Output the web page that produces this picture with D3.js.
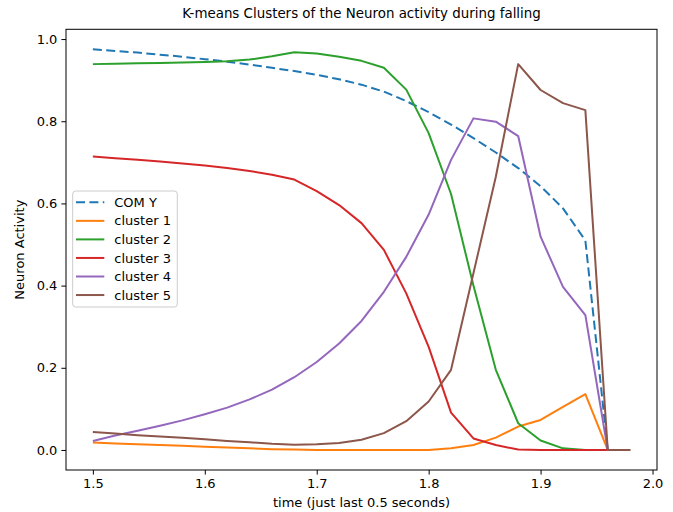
<!DOCTYPE html>
<html>
<head>
<meta charset="utf-8">
<script src="https://cdn.jsdelivr.net/npm/d3@7"></script>
<style>
  body { margin: 0; background: #fff; }
  svg { display: block; font-family: "DejaVu Sans", sans-serif; }
</style>
</head>
<body>
<svg id="chart" width="673" height="512"></svg>
<script>
// time axis (last 0.5 s)
var times = [1.50, 1.52, 1.54, 1.56, 1.58, 1.60, 1.62, 1.64, 1.66, 1.68, 1.70, 1.72, 1.74,
             1.76, 1.78, 1.80, 1.82, 1.84, 1.86, 1.88, 1.90, 1.92, 1.94, 1.96, 1.98];

var comY = [0.975, 0.971, 0.967, 0.962, 0.957, 0.951, 0.945, 0.938, 0.930, 0.922, 0.913, 0.902, 0.889,
            0.872, 0.849, 0.822, 0.792, 0.759, 0.724, 0.686, 0.642, 0.588, 0.510, 0.0, 0.0];
var cluster1 = [0.018, 0.016, 0.014, 0.012, 0.010, 0.008, 0.006, 0.004, 0.002, 0.001, 0.0, 0.0, 0.0,
                0.0, 0.0, 0.0, 0.004, 0.012, 0.030, 0.057, 0.073, 0.105, 0.136, 0.0, 0.0];
var cluster2 = [0.939, 0.940, 0.941, 0.942, 0.943, 0.944, 0.946, 0.950, 0.958, 0.968, 0.965, 0.957, 0.947,
                0.930, 0.877, 0.771, 0.623, 0.400, 0.195, 0.065, 0.023, 0.004, 0.0, 0.0, 0.0];
var cluster3 = [0.714, 0.710, 0.706, 0.702, 0.697, 0.692, 0.686, 0.679, 0.670, 0.658, 0.630, 0.596, 0.552,
                0.487, 0.381, 0.251, 0.091, 0.028, 0.012, 0.001, 0.0, 0.0, 0.0, 0.0, 0.0];
var cluster4 = [0.022, 0.035, 0.047, 0.059, 0.072, 0.087, 0.103, 0.123, 0.147, 0.177, 0.214, 0.259, 0.314,
                0.385, 0.470, 0.573, 0.706, 0.807, 0.799, 0.764, 0.519, 0.397, 0.328, 0.0, 0.0];
var cluster5 = [0.044, 0.040, 0.036, 0.033, 0.030, 0.026, 0.022, 0.019, 0.015, 0.013, 0.014, 0.017, 0.025,
                0.041, 0.070, 0.118, 0.195, 0.430, 0.665, 0.939, 0.876, 0.844, 0.827, 0.0, 0.0];

var seriesNames = ["COM Y", "cluster 1", "cluster 2", "cluster 3", "cluster 4", "cluster 5"];
var xTicks = [1.5, 1.6, 1.7, 1.8, 1.9, 2.0];
var yTicks = [0.0, 0.2, 0.4, 0.6, 0.8, 1.0];

var colors = ["#1f77b4", "#ff7f0e", "#2ca02c", "#d62728", "#9467bd", "#8c564b"];
var allSeries = [comY, cluster1, cluster2, cluster3, cluster4, cluster5];

var svg = d3.select("#chart");
var plotL = 66, plotR = 657, plotT = 29.3, plotB = 470;

// matplotlib style 5% margins
var xExt = d3.extent(times), xPad = (xExt[1] - xExt[0]) * 0.05;
var yExt = d3.extent(d3.merge(allSeries)), yPad = (yExt[1] - yExt[0]) * 0.05;

var x = d3.scaleLinear().domain([xExt[0] - xPad, xExt[1] + xPad]).range([plotL, plotR]);
var y = d3.scaleLinear().domain([yExt[0] - yPad, yExt[1] + yPad]).range([plotB, plotT]);

var line = d3.line()
  .x(function(d, i) { return x(times[i]); })
  .y(function(d) { return y(d); });

var g = svg.append("g");
allSeries.forEach(function(s, k) {
  g.append("path")
    .datum(s)
    .attr("d", line)
    .attr("fill", "none")
    .attr("stroke", colors[k])
    .attr("stroke-width", 2)
    .attr("stroke-linejoin", "round")
    .attr("stroke-dasharray", k === 0 ? "9,4.4" : null);
});

// frame
svg.append("rect")
  .attr("x", plotL).attr("y", plotT)
  .attr("width", plotR - plotL).attr("height", plotB - plotT)
  .attr("fill", "none").attr("stroke", "#000").attr("stroke-width", 1);

var xAxis = svg.append("g")
  .attr("transform", "translate(0," + plotB + ")")
  .call(d3.axisBottom(x).tickValues(xTicks).tickFormat(d3.format(".1f")).tickSize(4.6).tickPadding(4));
var yAxis = svg.append("g")
  .attr("transform", "translate(" + plotL + ",0)")
  .call(d3.axisLeft(y).tickValues(yTicks).tickFormat(d3.format(".1f")).tickSize(4.6).tickPadding(4));

[xAxis, yAxis].forEach(function(a) {
  a.select(".domain").remove();
  a.selectAll("text").attr("font-size", 13).attr("font-family", "DejaVu Sans").attr("fill", "#000");
  a.selectAll("line").attr("stroke", "#000");
});

svg.append("text")
  .attr("x", (plotL + plotR) / 2).attr("y", 18)
  .attr("text-anchor", "middle").attr("font-size", 13.4)
  .text("K-means Clusters of the Neuron activity during falling");

svg.append("text")
  .attr("x", (plotL + plotR) / 2).attr("y", 507)
  .attr("text-anchor", "middle").attr("font-size", 13)
  .text("time (just last 0.5 seconds)");

svg.append("text")
  .attr("transform", "translate(24," + ((plotT + plotB) / 2) + ") rotate(-90)")
  .attr("text-anchor", "middle").attr("font-size", 13)
  .text("Neuron Activity");

// legend
var lg = svg.append("g");
lg.append("rect")
  .attr("x", 72.7).attr("y", 191).attr("width", 104.6).attr("height", 116)
  .attr("rx", 3).attr("fill", "#fff").attr("fill-opacity", 0.8)
  .attr("stroke", "#cccccc").attr("stroke-width", 1);

seriesNames.forEach(function(name, k) {
  var yy = 202.3 + k * 18.55;
  lg.append("line")
    .attr("x1", 76).attr("x2", 104.3).attr("y1", yy).attr("y2", yy)
    .attr("stroke", colors[k]).attr("stroke-width", 2)
    .attr("stroke-dasharray", k === 0 ? "9,4.4" : null);
  lg.append("text")
    .attr("x", 114.3).attr("y", yy).attr("dy", "0.35em")
    .attr("font-size", 13)
    .text(name);
});
</script>
</body>
</html>
